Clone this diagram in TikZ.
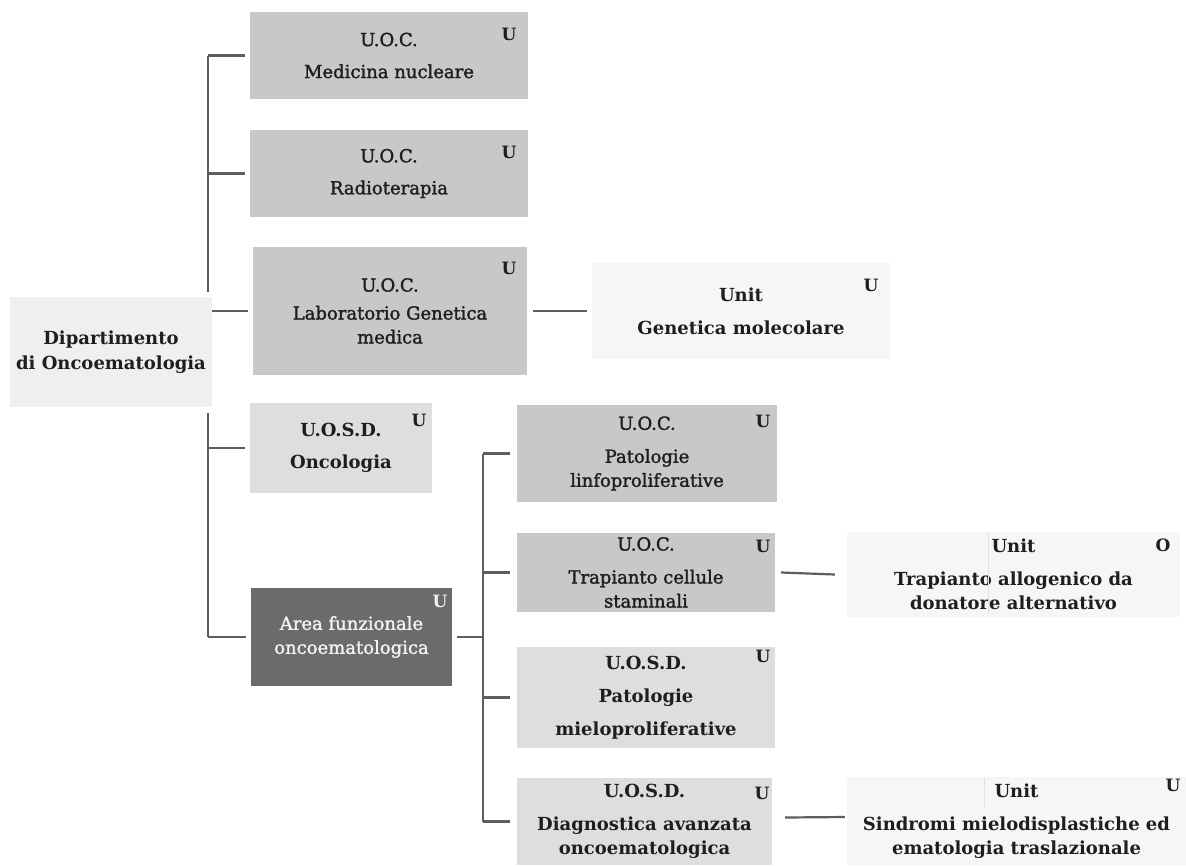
\documentclass[tikz,border=0pt]{standalone}
\usepackage{fontspec}
\setmainfont{DejaVu Serif}
\newfontfamily\semib{DejaVu Serif}[FakeBold=1.6]
\definecolor{midgray}{HTML}{C8C8CA}
\definecolor{litegray}{HTML}{DEDEDE}
\definecolor{dipgray}{HTML}{EFEFEF}
\definecolor{unitgray}{HTML}{F6F6F6}
\definecolor{areagray}{HTML}{6B6B6D}
\definecolor{txt}{HTML}{1E1E1E}
\definecolor{linegray}{HTML}{5E5E5E}
\begin{document}
\begin{tikzpicture}[x=1pt,y=-1pt,
  box/.style={rectangle, inner sep=0pt, align=center, text=txt,
    font=\fontsize{18}{24}\selectfont\semib},
  midbox/.style={box, fill=midgray},
  litebox/.style={box, fill=litegray, font=\fontsize{18}{24}\selectfont\bfseries},
  dipbox/.style={box, fill=dipgray, font=\fontsize{18}{25}\selectfont\bfseries},
  unitbox/.style={box, fill=unitgray, font=\fontsize{18}{24}\selectfont\bfseries},
  areabox/.style={box, fill=areagray, text=white!95!black},
  umark/.style={inner sep=0pt, text=txt, font=\fontsize{17}{18}\selectfont\bfseries},
  conn/.style={draw=linegray, line width=2.2pt},
  faint/.style={draw=black!12, line width=1pt}
]
\fill[white] (0,0) rectangle (1186,865);
\useasboundingbox (0,0) rectangle (1186,865);

% left column
\node[midbox, minimum width=278pt, minimum height=87pt] (med) at (389,55.5) {U.O.C.\\[8pt]Medicina nucleare};
\node[midbox, minimum width=278pt, minimum height=87pt] (rad) at (389,173.5) {U.O.C.\\[8pt]Radioterapia};
\node[midbox, minimum width=274pt, minimum height=128pt] (lab) at (390,311) {U.O.C.\\[4pt]Laboratorio Genetica\\medica};
\node[dipbox, minimum width=202pt, minimum height=110pt] (dip) at (111,352) {Dipartimento\\di Oncoematologia};
\node[litebox, minimum width=182pt, minimum height=90pt] (onc) at (341,448) {U.O.S.D.\\[8pt]Oncologia};
\node[areabox, minimum width=201pt, minimum height=98pt] (area) at (351.5,637) {Area funzionale\\oncoematologica};

% sub column
\node[midbox, minimum width=260pt, minimum height=97pt] (linfo) at (647,453.5) {U.O.C.\\[9pt]Patologie\\linfoproliferative};
\node[midbox, minimum width=258pt, minimum height=79pt] (tra) at (646,572.5) {U.O.C.\\[9pt]Trapianto cellule\\staminali};
\node[litebox, minimum width=258pt, minimum height=101pt] (mielo) at (646,697.5) {U.O.S.D.\\[9pt]Patologie\\[9pt]mieloproliferative};
\node[litebox, minimum width=255pt, minimum height=87pt] (diag) at (644.5,821.5) {U.O.S.D.\\[9pt]Diagnostica avanzata\\oncoematologica};

% units
\node[unitbox, minimum width=298pt, minimum height=96pt] (gen) at (741,311) {Unit\\[9pt]Genetica molecolare};
\node[unitbox, minimum width=333pt, minimum height=85pt] (trunit) at (1013.5,574.5) {Unit\\[9pt]Trapianto allogenico da\\donatore alternativo};
\node[unitbox, minimum width=339pt, minimum height=88pt] (sind) at (1016.5,821) {Unit\\[9pt]Sindromi mielodisplastiche ed\\ematologia traslazionale};

% faint scan marks inside unit boxes
\coordinate (f1a) at (988,533); \coordinate (f1b) at (988,613);
\coordinate (f2a) at (984,778); \coordinate (f2b) at (984,808);
\draw[faint] (f1a) -- (f1b);
\draw[faint] (f2a) -- (f2b);

% marks
\node[umark] (u1) at (509,34) {U};
\node[umark] (u2) at (509,152) {U};
\node[umark] (u3) at (509,268) {U};
\node[umark] (u4) at (419,420) {U};
\node[umark, text=white!95!black] (u5) at (440,601) {U};
\node[umark] (u6) at (763,421) {U};
\node[umark] (u7) at (763,546) {U};
\node[umark] (u8) at (763,656) {U};
\node[umark] (u9) at (762,793) {U};
\node[umark] (u10) at (871,285) {U};
\node[umark] (u11) at (1163,545) {O};
\node[umark] (u12) at (1173,785) {U};

% connectors: main trunk
\coordinate (T) at (208,0);
\coordinate (t1) at (208,292);
\coordinate (t2) at (208,413);
\draw[conn] (T |- med.west) -- (t1);
\draw[conn] (t2) -- (T |- area.west);
\draw[conn] (T |- med.west) -- ([xshift=-5pt]med.west);
\draw[conn] (T |- rad.west) -- ([xshift=-5pt]rad.west);
\draw[conn] (dip.east |- lab.west) -- ([xshift=-5pt]lab.west);
\draw[conn] (T |- onc.west) -- ([xshift=-5pt]onc.west);
\draw[conn] (T |- area.west) -- ([xshift=-5pt]area.west);

% sub trunk
\coordinate (S) at (483,0);
\draw[conn] ([xshift=5pt]area.east) -- (S |- area.east);
\draw[conn] (S |- linfo.west) -- (S |- diag.west);
\draw[conn] (S |- linfo.west) -- ([xshift=-7pt]linfo.west);
\draw[conn] (S |- tra.west) -- ([xshift=-7pt]tra.west);
\draw[conn] (S |- mielo.west) -- ([xshift=-7pt]mielo.west);
\draw[conn] (S |- diag.west) -- ([xshift=-7pt]diag.west);

% to units
\draw[conn] ([xshift=6pt]lab.east) -- ([xshift=-5pt]gen.west);
\draw[conn] ([xshift=6pt]tra.east) -- ([xshift=-12pt]trunit.west);
\draw[conn] ([xshift=13pt,yshift=4pt]diag.east) -- ([xshift=-2pt,yshift=4pt]sind.west);
\end{tikzpicture}
\end{document}
